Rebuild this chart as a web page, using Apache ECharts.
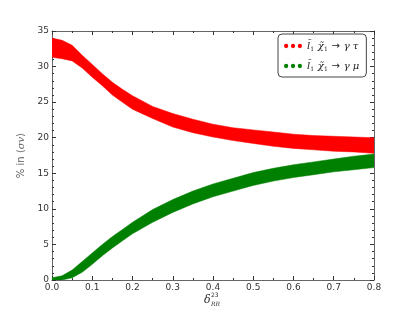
<!DOCTYPE html>
<html>
<head>
<meta charset="utf-8">
<script src="https://cdn.jsdelivr.net/npm/echarts@6/dist/echarts.min.js"></script>
<style>
  html, body { margin: 0; padding: 0; background: #fff; }
  #chart { width: 415px; height: 312px; }
</style>
</head>
<body>
<div id="chart"></div>
<script>
// delta_RR^23 sample points
const xs = [0, 0.025, 0.05, 0.075, 0.1, 0.125, 0.15, 0.175, 0.2, 0.25, 0.3, 0.35, 0.4, 0.45, 0.5, 0.55, 0.6, 0.65, 0.7, 0.75, 0.8];

// gamma tau band (lower / upper edge, % of sigma v)
const tauLow  = [31.3, 31.1, 30.8, 29.8, 28.5, 27.3, 26.0, 25.0, 24.0, 22.7, 21.5, 20.7, 20.1, 19.6, 19.2, 18.8, 18.5, 18.3, 18.1, 18.0, 17.8];
const tauHigh = [34.0, 33.7, 33.0, 31.6, 30.3, 29.0, 27.8, 26.8, 25.9, 24.4, 23.4, 22.6, 21.9, 21.4, 21.1, 20.8, 20.5, 20.3, 20.2, 20.1, 20.0];

// gamma mu band
const muLow  = [0.0, 0.0, 0.3, 1.1, 2.2, 3.4, 4.5, 5.5, 6.5, 8.1, 9.5, 10.7, 11.7, 12.5, 13.3, 13.9, 14.4, 14.8, 15.2, 15.5, 15.8];
const muHigh = [0.3, 0.6, 1.4, 2.6, 3.8, 5.0, 6.1, 7.1, 8.1, 9.9, 11.3, 12.5, 13.5, 14.3, 15.1, 15.7, 16.2, 16.6, 17.0, 17.4, 17.7];

const xTicks = [0, 0.1, 0.2, 0.3, 0.4, 0.5, 0.6, 0.7, 0.8];

const tauName = "tau";
const muName = "mu";

const RED = "#ff0000";
const GREEN = "#008000";
const AXIS = "#666";

const threeDots = "path://M0,5a5,5 0 1,0 10,0a5,5 0 1,0 -10,0M16,5a5,5 0 1,0 10,0a5,5 0 1,0 -10,0M32,5a5,5 0 1,0 10,0a5,5 0 1,0 -10,0";

// one polygon per band: upper edge left->right, lower edge right->left
const bandSeries = (name, low, high, color) => ({
  name: name,
  type: "custom",
  clip: true,
  itemStyle: { color: color },
  data: xs.map((x, i) => [x, low[i], high[i]]),
  encode: { x: 0, y: [1, 2] },
  renderItem: (params, api) => {
    if (params.dataIndex !== 0) return null;
    const upper = xs.map((x, i) => api.coord([x, high[i]]));
    const lower = xs.map((x, i) => api.coord([x, low[i]])).reverse();
    return {
      type: "polygon",
      shape: { points: upper.concat(lower) },
      style: { fill: color, stroke: color, lineWidth: 0.5 },
    };
  },
});

const baseX = {
  type: "value",
  min: 0,
  max: 0.8,
  interval: 0.1,
  axisLine: { show: true, onZero: false, lineStyle: { color: AXIS, width: 1 } },
  axisTick: { show: true, inside: true, length: 4, lineStyle: { color: "#333" } },
  minorTick: { show: true, splitNumber: 2, length: 2, lineStyle: { color: "#333" } },
  splitLine: { show: false },
};

const baseY = {
  type: "value",
  min: 0,
  max: 35,
  interval: 5,
  axisLine: { show: true, onZero: false, lineStyle: { color: AXIS, width: 1 } },
  axisTick: { show: true, inside: true, length: 4, lineStyle: { color: "#333" } },
  minorTick: { show: true, splitNumber: 5, length: 2, lineStyle: { color: "#333" } },
  splitLine: { show: false },
};

const chart = echarts.init(document.getElementById("chart"), null, { renderer: "canvas" });

chart.setOption({
  animation: false,
  backgroundColor: "#fff",
  textStyle: { fontFamily: "DejaVu Sans" },
  grid: { left: 52, right: 41, top: 31, bottom: 32 },
  legend: {
    data: [tauName, muName],
    orient: "vertical",
    left: 278,
    top: 34,
    width: 92,
    padding: [6, 7, 5, 6],
    itemGap: 8,
    itemWidth: 18,
    itemHeight: 5,
    icon: threeDots,
    borderColor: "#444",
    borderWidth: 1,
    borderRadius: 4,
    backgroundColor: "#fff",
    formatter: (name) =>
      name === tauName
        ? "{i|l̃}{s|1} {i|χ̃}{s|1} {n|→} {i|γ τ}"
        : "{i|l̃}{s|1} {i|χ̃}{s|1} {n|→} {i|γ μ}",
    textStyle: {
      color: "#222",
      rich: {
        i: { fontFamily: "DejaVu Serif", fontStyle: "italic", fontSize: 10, color: "#222" },
        s: { fontFamily: "DejaVu Serif", fontSize: 6, color: "#222", padding: [6, 0, 0, 0] },
        n: { fontFamily: "DejaVu Sans", fontSize: 10, color: "#222" },
      },
    },
  },
  xAxis: [
    Object.assign({}, baseX, {
      position: "bottom",
      axisLabel: {
        color: "#333",
        fontSize: 9,
        margin: 3,
        formatter: (v) => (xTicks.some((t) => Math.abs(t - v) < 1e-9) ? v.toFixed(1) : ""),
      },
    }),
    Object.assign({}, baseX, { position: "top", axisLabel: { show: false } }),
  ],
  yAxis: [
    Object.assign({}, baseY, {
      position: "left",
      name: "{n|% in }{b|⟨}{i|σv}{b|⟩}",
      nameLocation: "middle",
      nameGap: 19,
      nameRotate: 90,
      nameTextStyle: {
        color: "#555",
        rich: {
          n: { fontFamily: "DejaVu Sans", fontSize: 10, color: "#555" },
          i: { fontFamily: "DejaVu Serif", fontStyle: "italic", fontSize: 10, color: "#555" },
          b: { fontFamily: "DejaVu Sans", fontSize: 10, color: "#555" },
        },
      },
      axisLabel: { color: "#333", fontSize: 9, margin: 3 },
    }),
    Object.assign({}, baseY, { position: "right", axisLabel: { show: false } }),
  ],
  graphic: [
    {
      type: "text",
      left: 204,
      top: 295,
      style: { text: "δ", font: "italic 11px DejaVu Serif", fill: "#333" },
    },
    {
      type: "text",
      left: 211,
      top: 292,
      style: { text: "23", font: "6px DejaVu Sans", fill: "#333" },
    },
    {
      type: "text",
      left: 211,
      top: 301,
      style: { text: "RR", font: "italic 6px DejaVu Serif", fill: "#333" },
    },
  ],
  series: [
    bandSeries(tauName, tauLow, tauHigh, RED),
    bandSeries(muName, muLow, muHigh, GREEN),
  ],
});
</script>
</body>
</html>
